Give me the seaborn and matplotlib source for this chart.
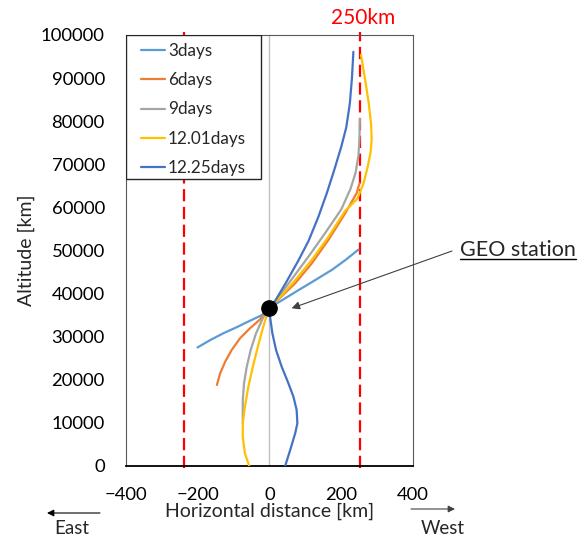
import numpy as np
import pandas as pd
import matplotlib
matplotlib.use('Agg')
import matplotlib.pyplot as plt
import seaborn as sns
from matplotlib.patches import Rectangle
from matplotlib.lines import Line2D

# series (horizontal distance km, altitude km)
labels = ['3days', '6days', '9days', '12.01days', '12.25days']
colors = ['#5B9BD5', '#ED7D31', '#A5A5A5', '#FFC000', '#4472C4']

x_3days = [-200, -165, -128, -91, -54, -21, 0, 40, 81, 125, 174, 212, 248]
alt_3days = [27500, 29200, 30800, 32200, 33700, 35000, 36700, 38700, 40800, 43000, 45500, 47800, 50200]

x_6days = [-146, -137, -123, -105, -82, -54, -26, 0, 36, 72, 118, 164, 211, 243, 251]
alt_6days = [18800, 21500, 24200, 26900, 29600, 31950, 34000, 36700, 39500, 42400, 47000,
             52400, 58600, 63300, 65600]

x_9days = [-74, -74, -70.5, -63, -52, -37, -18, 0, 20, 62, 109, 155, 200, 226, 240, 248, 251, 252]
alt_9days = [9900, 15300, 19200, 23000, 26900, 30800, 34300, 36700, 38600, 43300, 48600, 54000,
             59500, 64300, 68000, 72000, 76000, 80600]

x_12_01days = [-56, -68, -74, -74, -68, -58.5, -46, -32, -18, -7, 0, 36, 72, 118, 164, 211,
               245, 262, 274, 282, 285, 283, 277, 268, 259, 255]
alt_12_01days = [0, 2900, 6800, 9900, 13800, 18400, 23000, 27700, 32000, 35000, 36700, 39700,
                 43100, 47800, 53100, 59200, 62000, 65500, 69500, 72800, 76000, 79500, 84000,
                 89000, 93500, 95400]

x_12_25days = [44, 58, 72, 78, 76, 67, 53, 34.5, 18.7, 8.4, 2, 0, 16, 44, 81, 109, 136, 160,
               180, 200, 214, 224, 230, 234]
alt_12_25days = [0, 3700, 7600, 9900, 13000, 16100, 19200, 23000, 26900, 30800, 34600, 36700,
                 38300, 42200, 47700, 52200, 57700, 63300, 68500, 74000, 78500, 84000, 90000, 96100]

geo_x, geo_alt = 0, 36700
limit_lines = [-237, 252]
x_ticks = [-400, -200, 0, 200, 400]
y_ticks = list(range(0, 100001, 10000))

series = [x_3days, x_6days, x_9days, x_12_01days, x_12_25days]
alts = [alt_3days, alt_6days, alt_9days, alt_12_01days, alt_12_25days]
frames = []
for lab, xs, ys in zip(labels, series, alts):
    frames.append(pd.DataFrame({'x': xs, 'alt': ys, 'series': lab}))
df = pd.concat(frames, ignore_index=True)

sns.set_style('white')
plt.rcParams['font.family'] = ['Lato', 'DejaVu Sans']

W, H = 584, 538
def fpx(x, y):
    return (x / W, 1 - y / H)

fig = plt.figure(figsize=(W / 100, H / 100), dpi=100)
ax = fig.add_axes([125.7 / W, 1 - 466 / H, (413 - 125.7) / W, (466 - 35) / H])

ax.axvline(0, color='#BFBFBF', lw=1, zorder=1)
for xr in limit_lines:
    ax.axvline(xr, color='red', lw=1.6, ls=(0, (5.5, 2.5)), ymin=-0.005, ymax=1.008,
               clip_on=False, zorder=2)

palette = dict(zip(labels, colors))
sns.lineplot(data=df, x='x', y='alt', hue='series', hue_order=labels, palette=palette,
             sort=False, estimator=None, lw=1.6, ax=ax, legend=False, zorder=3)

ax.plot(geo_x, geo_alt, 'o', color='black', ms=11, zorder=6)

ax.set_xlim(-400, 400)
ax.set_ylim(0, 100000)
ax.set_xticks(x_ticks)
ax.set_yticks(y_ticks)
ax.set_yticklabels([str(v) for v in y_ticks])
ax.tick_params(length=0, labelsize=13.3, colors='black')
ax.tick_params(axis='x', pad=15)
ax.tick_params(axis='y', pad=15)
ax.set_xlabel('Horizontal distance [km]', fontsize=14, labelpad=0)
ax.set_ylabel('Altitude [km]', fontsize=14, labelpad=4)

for side in ['left', 'top', 'right']:
    ax.spines[side].set_color('#595959')
    ax.spines[side].set_linewidth(0.8)
ax.spines['bottom'].set_color('black')
ax.spines['bottom'].set_linewidth(1.3)

# legend box
ax.add_patch(Rectangle((0, 1 - (179 - 35) / 431), (261 - 125.7) / 287.3, (179 - 35) / 431,
                       transform=ax.transAxes, facecolor='white', edgecolor='#262626',
                       lw=1, zorder=7))
handles = [Line2D([], [], color=c, lw=1.6) for c in colors]
leg = ax.legend(handles, labels, loc='upper left', bbox_to_anchor=(0.052, 0.981),
                frameon=False, borderpad=0, borderaxespad=0, handlelength=1.4,
                handletextpad=0.2, labelspacing=0.77, fontsize=12.3)
leg.set_zorder(8)

# annotations
fig.text(*fpx(363, 18), '250km', color='red', fontsize=15, ha='center', va='center')
t = fig.text(*fpx(460, 250), 'GEO station', fontsize=15.5, ha='left', va='center')
ax.annotate('', xy=(62, 36600), xycoords='data', xytext=fpx(452, 251), textcoords='figure fraction',
            arrowprops=dict(arrowstyle='-|>', color='#404040', lw=0.8, mutation_scale=12,
                            shrinkA=0, shrinkB=0))
fig.canvas.draw()
bb = t.get_window_extent()
fig.add_artist(Line2D([bb.x0 / W, bb.x1 / W], [1 - 259 / H, 1 - 259 / H], color='black', lw=1))

fig.text(*fpx(72, 529), 'East', fontsize=13.5, ha='center', va='center')
fig.text(*fpx(443, 528), 'West', fontsize=13.5, ha='center', va='center')
ax.annotate('', xy=fpx(47, 513), xycoords='figure fraction', xytext=fpx(100, 513),
            textcoords='figure fraction',
            arrowprops=dict(arrowstyle='-|>', color='black', lw=0.8, mutation_scale=10,
                            shrinkA=0, shrinkB=0))
ax.annotate('', xy=fpx(455, 509), xycoords='figure fraction', xytext=fpx(411, 509),
            textcoords='figure fraction',
            arrowprops=dict(arrowstyle='-|>', color='#404040', lw=0.8, mutation_scale=10,
                            shrinkA=0, shrinkB=0))

fig.savefig('out.png', dpi=100)
